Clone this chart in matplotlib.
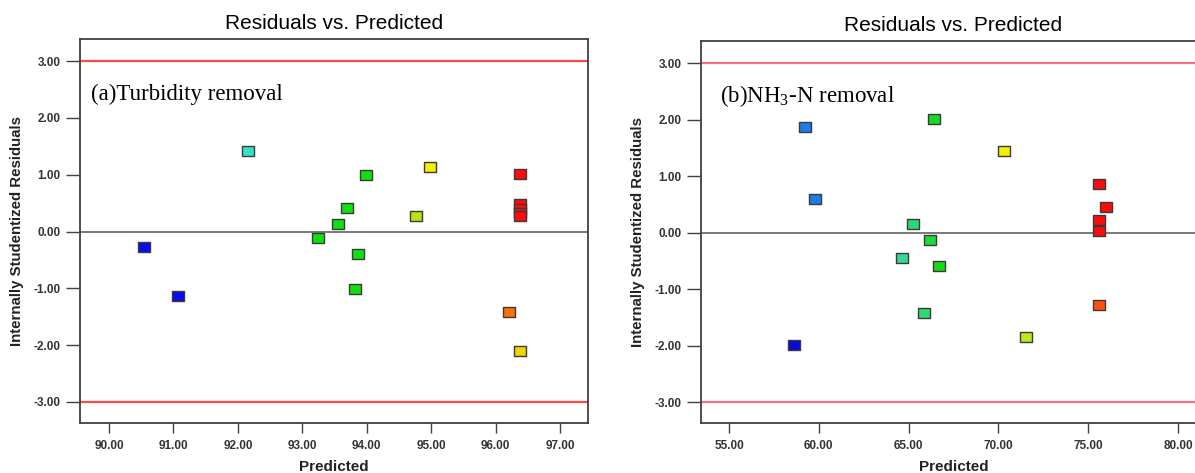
import matplotlib
matplotlib.use('Agg')
import matplotlib.pyplot as plt
from matplotlib.path import Path
import numpy as np

plt.rcParams['font.family'] = ['Liberation Sans', 'DejaVu Sans']
plt.rcParams['mathtext.fontset'] = 'custom'
plt.rcParams['mathtext.rm'] = 'Liberation Serif'

# (a) turbidity removal
pred_a = [92.15, 94.98, 93.98, 96.38, 96.38, 96.38, 96.38, 96.38, 93.69, 93.55,
          94.76, 93.24, 90.54, 91.07, 93.86, 93.82, 96.21, 96.38]
resid_a = [1.42, 1.14, 1.00, 1.02, 0.49, 0.40, 0.33, 0.27, 0.41, 0.13,
           0.28, -0.12, -0.28, -1.13, -0.40, -1.01, -1.41, -2.11]
colors_a = ['#38e0c8', '#f2f000', '#10e010', '#ff0a0a', '#ff0a0a', '#ff0a0a', '#ff0a0a', '#ff0a0a',
            '#10e010', '#10e010', '#b8e410', '#10e010', '#0a0af0', '#0a0af0', '#10e010', '#10e010',
            '#ff7000', '#f2d400']

# (b) NH3-N removal
pred_b = [59.24, 59.79, 66.44, 70.33, 75.63, 75.97, 75.63, 75.63, 65.22, 66.17,
          64.65, 66.68, 65.87, 58.63, 71.51, 75.63]
resid_b = [1.87, 0.60, 2.01, 1.44, 0.86, 0.45, 0.22, 0.02, 0.15, -0.13,
           -0.45, -0.59, -1.42, -1.99, -1.85, -1.29]
colors_b = ['#1a7ee8', '#1a7ee8', '#18d828', '#f2f000', '#ff0a0a', '#ff0a0a', '#ff0a0a', '#ff0a0a',
            '#28d878', '#20d840', '#38d890', '#18d818', '#30d870', '#0a0ad8', '#bce820', '#ff5010']

yticks = [-3, -2, -1, 0, 1, 2, 3]
xticks_a = [90, 91, 92, 93, 94, 95, 96, 97]
xticks_b = [55, 60, 65, 70, 75, 80]

# slightly wide rectangle marker
rect = Path([(-1, -0.75), (1, -0.75), (1, 0.75), (-1, 0.75), (-1, -0.75)], closed=True)

fig = plt.figure(figsize=(11.95, 4.73), dpi=100)
ax1 = fig.add_axes([0.0669, 0.1057, 0.4251, 0.8118])
ax2 = fig.add_axes([0.5866, 0.1057, 0.4226, 0.8076])

def setup(ax, pred, resid, cols, xticks, xlim, limit_color, label):
    ax.axhline(3, color=limit_color, lw=1.6, zorder=1)
    ax.axhline(-3, color=limit_color, lw=1.6, zorder=1)
    ax.axhline(0, color='#555555', lw=1.1, zorder=1)
    for x, y, c in zip(pred, resid, cols):
        ax.plot(x, y, marker=rect, ms=9, mfc=c, mec='#3a3a3a', mew=1.0, ls='none', zorder=3)
    ax.set_xlim(*xlim)
    ax.set_ylim(-3.37, 3.39)
    ax.set_yticks(yticks)
    ax.set_yticklabels(['%.2f' % t for t in yticks])
    ax.set_xticks(xticks)
    ax.set_xticklabels(['%.2f' % t for t in xticks])
    for s in ax.spines.values():
        s.set_color('#404040')
        s.set_linewidth(1.3)
    ax.tick_params(axis='y', direction='out', length=10, width=1, color='#404040',
                   labelsize=8.5, labelcolor='#333333', pad=4)
    ax.tick_params(axis='x', direction='out', length=7, width=1, color='#404040',
                   labelsize=8.5, labelcolor='#333333', pad=5)
    for lab in ax.get_xticklabels() + ax.get_yticklabels():
        lab.set_fontweight('bold')
    ax.set_title('Residuals vs. Predicted', fontsize=15, pad=7)
    ax.set_xlabel('Predicted', fontsize=11, fontweight='bold', color='#222222', va='center')
    ax.xaxis.set_label_coords(0.5, -0.115)
    ax.set_ylabel('Internally Studentized Residuals', fontsize=10.8, fontweight='bold', color='#222222',
                  va='center')
    ax.text(label[1], 0.84, label[0], transform=ax.transAxes, fontsize=16.5,
            family='Liberation Serif', va='baseline')

setup(ax1, pred_a, resid_a, colors_a, xticks_a, (89.55, 97.43), '#ff4848',
      ('(a)Turbidity removal', 0.022))
ax1.yaxis.set_label_coords(-0.124, 0.5)
setup(ax2, pred_b, resid_b, colors_b, xticks_b, (53.44, 81.56), '#f4708a',
      (r'(b)NH$_3$-N removal', 0.038))
ax2.yaxis.set_label_coords(-0.125, 0.5)

fig.savefig('out.png', dpi=100)
